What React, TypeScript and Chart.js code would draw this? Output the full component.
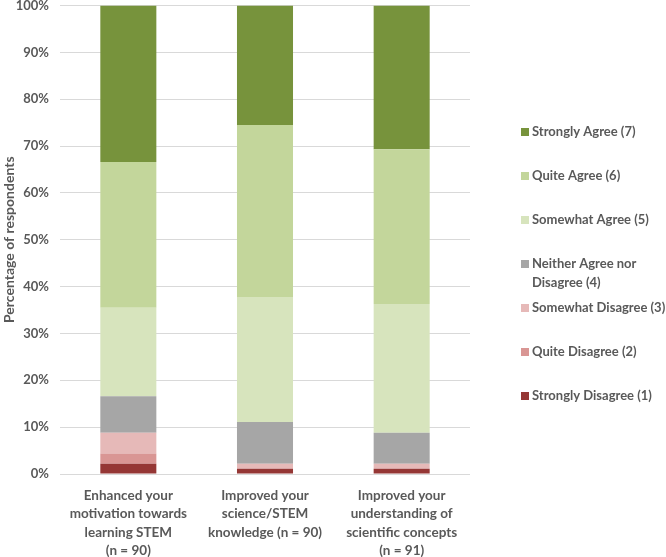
import React, { useEffect, useRef } from "react";
import { Chart, registerables } from "chart.js";

Chart.register(...registerables);

const categories: string[][] = [
  ["Enhanced your", "motivation towards", "learning STEM", "(n = 90)"],
  ["Improved your", "science/STEM", "knowledge (n = 90)"],
  ["Improved your", "understanding of", "scientific concepts", "(n = 91)"],
];

const seriesLabels = [
  "Strongly Disagree (1)",
  "Quite Disagree (2)",
  "Somewhat Disagree (3)",
  "Neither Agree nor Disagree (4)",
  "Somewhat Agree (5)",
  "Quite Agree (6)",
  "Strongly Agree (7)",
];

const legendLines: string[][] = [
  ["Strongly Disagree (1)"],
  ["Quite Disagree (2)"],
  ["Somewhat Disagree (3)"],
  ["Neither Agree nor", "Disagree (4)"],
  ["Somewhat Agree (5)"],
  ["Quite Agree (6)"],
  ["Strongly Agree (7)"],
];

const stronglyDisagree = [2.2, 1.1, 1.1];
const quiteDisagree = [2.2, 0, 0];
const somewhatDisagree = [4.4, 1.1, 1.1];
const neutral = [7.8, 8.9, 6.6];
const somewhatAgree = [18.9, 26.7, 27.5];
const quiteAgree = [31.1, 36.7, 33.0];
const stronglyAgree = [33.4, 25.5, 30.7];

const seriesValues = [
  stronglyDisagree,
  quiteDisagree,
  somewhatDisagree,
  neutral,
  somewhatAgree,
  quiteAgree,
  stronglyAgree,
];

const seriesColors = [
  "#953735",
  "#d99694",
  "#e6b9b8",
  "#a6a6a6",
  "#d7e4bd",
  "#c3d69b",
  "#77933c",
];

const yTicks = [0, 10, 20, 30, 40, 50, 60, 70, 80, 90, 100];

const FONT = "Lato, 'Open Sans', sans-serif";
const TEXT = "#595959";

const legendPlugin = {
  id: "sideLegend",
  afterDraw(chart: any) {
    const ctx = chart.ctx;
    ctx.save();
    ctx.font = `bold 13px ${FONT}`;
    ctx.textBaseline = "middle";
    ctx.textAlign = "left";
    const x0 = 521;
    const yStart = 132;
    const step = 44;
    const n = chart.data.datasets.length;
    for (let i = 0; i < n; i++) {
      const idx = n - 1 - i;
      const ds = chart.data.datasets[idx];
      const y = yStart + i * step;
      ctx.fillStyle = ds.backgroundColor;
      ctx.fillRect(x0, y - 4, 8, 8);
      ctx.fillStyle = TEXT;
      const lines = legendLines[idx];
      lines.forEach((ln, k) => {
        ctx.fillText(ln, x0 + 11, y + k * 19);
      });
    }
    ctx.restore();
  },
};

export default function App() {
  const ref = useRef<HTMLCanvasElement | null>(null);
  useEffect(() => {
    if (!ref.current) return;
    const chart = new Chart(ref.current, {
      type: "bar",
      data: {
        labels: categories as any,
        datasets: seriesLabels.map((label, i) => ({
          label,
          data: seriesValues[i],
          backgroundColor: seriesColors[i],
          borderWidth: 0,
          barPercentage: 0.41,
          categoryPercentage: 1,
        })),
      },
      options: {
        responsive: false,
        animation: false,
        layout: { padding: { left: 1, right: 196, top: 5.5, bottom: 0 } },
        plugins: {
          legend: { display: false },
          tooltip: { enabled: false },
        },
        scales: {
          x: {
            stacked: true,
            grid: { display: false },
            border: { display: false },
            ticks: {
              color: TEXT,
              font: { family: FONT, size: 13.5, weight: "bold", lineHeight: 1.37 },
              maxRotation: 0,
              autoSkip: false,
              padding: 4,
            },
            afterFit: (s: any) => {
              s.height = 83;
              s.paddingLeft = 0;
              s.paddingRight = 0;
            },
          },
          y: {
            stacked: true,
            min: 0,
            max: 100,
            afterBuildTicks: (s: any) => {
              s.ticks = yTicks.map((v) => ({ value: v }));
            },
            grid: { color: "#d9d9d9", drawTicks: false },
            border: { display: false },
            ticks: {
              color: TEXT,
              font: { family: FONT, size: 13, weight: "bold" },
              padding: 11,
              callback: (v: any) => v + "%",
            },
            title: {
              display: true,
              text: "Percentage of respondents",
              color: TEXT,
              font: { family: FONT, size: 14, weight: "bold" },
              padding: 0,
            },
            afterFit: (s: any) => {
              s.width = 59;
              s.paddingTop = 0;
              s.paddingBottom = 0;
            },
          },
        },
      },
      plugins: [legendPlugin],
    });
    return () => chart.destroy();
  }, []);
  return (
    <div style={{ position: "fixed", left: 0, top: 0, width: 666, height: 557, background: "#fff" }}>
      <canvas ref={ref} width={666} height={557} />
    </div>
  );
}
